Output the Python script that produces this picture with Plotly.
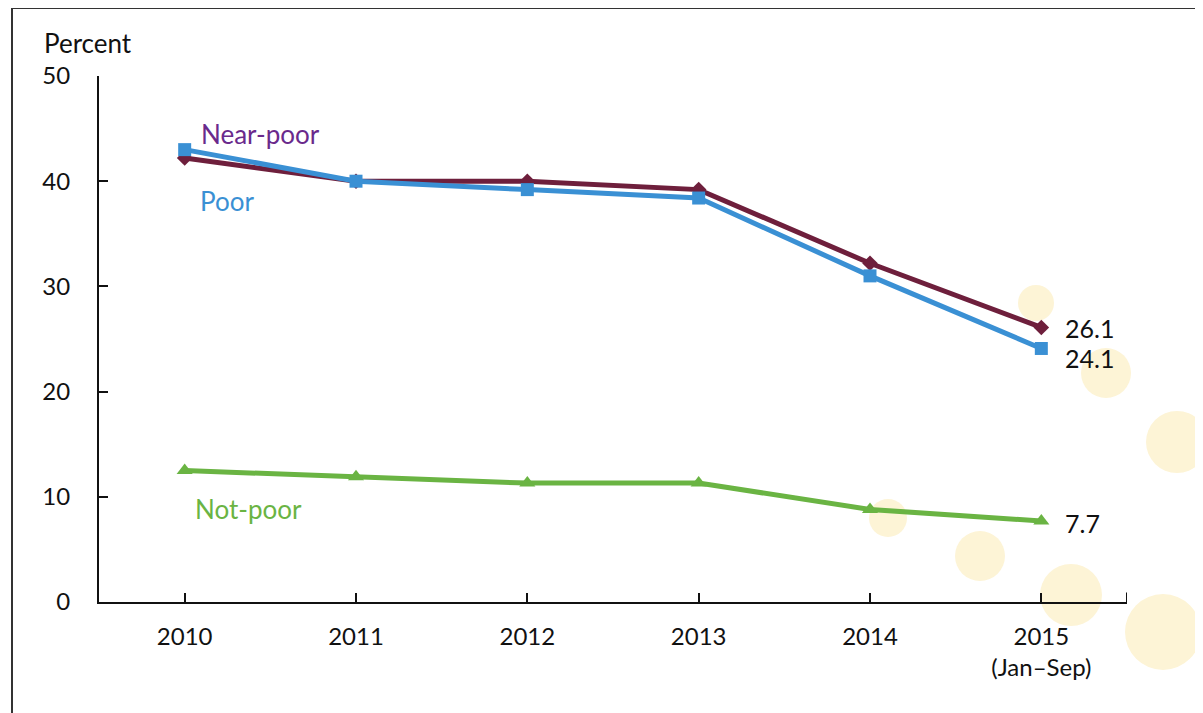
import plotly.graph_objects as go

years = ['2010', '2011', '2012', '2013', '2014', '2015<br>(Jan\u2013Sep)']
near_poor = [42.2, 40.0, 40.0, 39.2, 32.2, 26.1]
poor = [43.0, 40.0, 39.2, 38.4, 31.0, 24.1]
not_poor = [12.5, 11.9, 11.3, 11.3, 8.8, 7.7]

W, H = 1203, 713
# page has an 8px body margin, so the figure is shifted by 8px
L, T = 91, 68
PW, PH = 1028, 526
R, B = W - L - PW, H - T - PH
FONT = 'Lato'


def px(x, y):
    # page pixel position -> paper coordinates
    return (x - 8 - L) / PW, (8 + T + PH - y) / PH


xs = list(range(len(years)))
fig = go.Figure()

fig.add_trace(go.Scatter(x=xs, y=near_poor, mode='lines+markers',
                         line=dict(color='#6e1f3c', width=5),
                         marker=dict(symbol='diamond', size=12, color='#6e1f3c')))
fig.add_trace(go.Scatter(x=xs, y=poor, mode='lines+markers',
                         line=dict(color='#3a90d4', width=5),
                         marker=dict(symbol='square', size=13, color='#3a90d4')))
fig.add_trace(go.Scatter(x=xs, y=not_poor, mode='lines+markers',
                         line=dict(color='#6ab443', width=5),
                         marker=dict(symbol='triangle-up', size=14, color='#6ab443')))

shapes = []
# decorative yellow dots
for cx, cy, r in [(1036, 303, 18), (1106, 373, 25), (1177, 442, 31), (888, 518, 19),
                  (980, 556, 25), (1071, 595, 31), (1163, 632, 38)]:
    x0, y0 = px(cx - r, cy + r)
    x1, y1 = px(cx + r, cy - r)
    shapes.append(dict(type='circle', xref='paper', yref='paper', x0=x0, y0=y0, x1=x1, y1=y1,
                       fillcolor='#fdf4d6', line=dict(width=0), layer='below'))
# frame
bx0, by0 = px(12, 760)
bx1, by1 = px(1260, 8)
shapes.append(dict(type='rect', xref='paper', yref='paper', x0=bx0, y0=by0, x1=bx1, y1=by1,
                   line=dict(color='#333333', width=2), layer='below'))
# end tick on x axis
shapes.append(dict(type='line', xref='x', yref='paper', x0=5.5, x1=5.5, y0=0, y1=0.018,
                   line=dict(color='#111111', width=2)))


def label(text, x, y, color):
    ax, ay = px(x, y)
    return dict(text=text, x=ax, y=ay, font=dict(size=26, color=color))


annotations = [
    label('Percent', 88, 43, '#111111'),
    label('Near-poor', 260, 134, '#6a2a8c'),
    label('Poor', 227, 201, '#3a90d4'),
    label('Not-poor', 248, 509, '#6ab443'),
    dict(text=str(near_poor[-1]), x=xs[-1], y=near_poor[-1], xref='x', yref='y', xanchor='left',
         xshift=22, yshift=-1, font=dict(size=25, color='#111111')),
    dict(text=str(poor[-1]), x=xs[-1], y=poor[-1], xref='x', yref='y', xanchor='left',
         xshift=22, yshift=-10, font=dict(size=25, color='#111111')),
    dict(text=str(not_poor[-1]), x=xs[-1], y=not_poor[-1], xref='x', yref='y', xanchor='left',
         xshift=22, yshift=-2, font=dict(size=25, color='#111111')),
]
for a in annotations:
    a.setdefault('xref', 'paper')
    a.setdefault('yref', 'paper')
    a.setdefault('xanchor', 'center')
    a['yanchor'] = 'middle'
    a['showarrow'] = False

fig.update_layout(
    width=W, height=H,
    margin=dict(l=L, r=R, t=T, b=B),
    paper_bgcolor='white', plot_bgcolor='rgba(0,0,0,0)',
    font=dict(family=FONT, size=24, color='#111111'),
    showlegend=False,
    shapes=shapes,
    annotations=annotations,
    xaxis=dict(range=[-0.5, 5.5], tickmode='array', tickvals=xs, ticktext=years,
               showgrid=False, zeroline=False, showline=True, linecolor='#111111', linewidth=2,
               ticks='inside', ticklen=9, tickwidth=2, tickcolor='#111111',
               ticklabelstandoff=12, tickfont=dict(size=24)),
    yaxis=dict(range=[0, 50], tickvals=[0, 10, 20, 30, 40, 50],
               showgrid=False, zeroline=False, showline=True, linecolor='#111111', linewidth=2,
               ticks='inside', ticklen=9, tickwidth=2, tickcolor='#111111',
               ticklabelstandoff=22, tickfont=dict(size=24)),
)

fig.write_html('out.html')
